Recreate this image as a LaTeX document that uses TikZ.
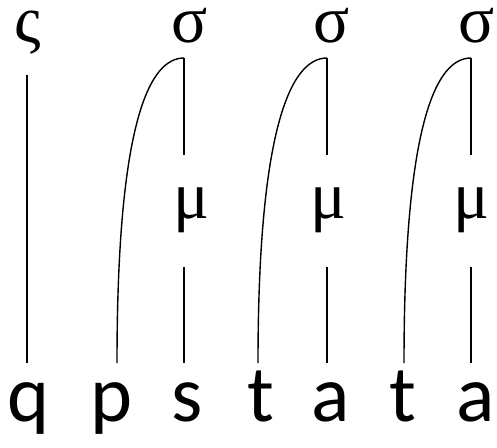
\documentclass[tikz,border=0pt]{standalone}
\usepackage{fontspec}
\setmainfont{Carlito}
\newfontfamily\grkfont{Liberation Serif}
\begin{document}
\begin{tikzpicture}[x=1pt,y=-1pt,line width=1.4pt,
  seg/.style={font=\fontsize{80}{90}\selectfont,anchor=base,inner sep=0pt},
  gk/.style={font=\grkfont\fontsize{67}{75}\selectfont,anchor=base,inner sep=0pt,
    text height=31pt,text depth=14pt}]
\useasboundingbox (0,0) rectangle (497,447);
% syllables
\node[gk] (s0) at (28,42) {ς};
\node[gk] (s1) at (190,42) {σ};
\node[gk] (s2) at (332,42) {σ};
\node[gk] (s3) at (477,42) {σ};
% moras
\node[gk] (m1) at (191,218) {μ};
\node[gk] (m2) at (328,218) {μ};
\node[gk] (m3) at (471,218) {μ};
% segments
\node[seg] (q)  at (29,421) {q};
\node[seg] (p)  at (112,421) {p};
\node[seg] (s)  at (187,421) {s};
\node[seg] (t1) at (261,421) {t};
\node[seg] (a1) at (331,421) {a};
\node[seg] (t2) at (403,421) {t};
\node[seg] (a2) at (476,421) {a};
% attachment points
\coordinate (s0b) at (27,75);
\coordinate (s1b) at (184,58);
\coordinate (s2b) at (327,58);
\coordinate (s3b) at (471,58);
\coordinate (m1t) at (184,155);
\coordinate (m2t) at (327,155);
\coordinate (m3t) at (471,155);
\coordinate (m1b) at (184,267);
\coordinate (m2b) at (327,267);
\coordinate (m3b) at (471,267);
\coordinate (qt)  at (27,363);
\coordinate (pt)  at (117,363);
\coordinate (st)  at (184,363);
\coordinate (t1t) at (258,363);
\coordinate (a1t) at (327,363);
\coordinate (t2t) at (404,363);
\coordinate (a2t) at (471,363);
% connectors
\draw (s0b) -- (qt);
\draw (s1b) -- (m1t);
\draw (s2b) -- (m2t);
\draw (s3b) -- (m3t);
\draw (m1b) -- (st);
\draw (m2b) -- (a1t);
\draw (m3b) -- (a2t);
\draw (s1b) .. controls (150,58) and (117,120) .. (pt);
\draw (s2b) .. controls (293,58) and (258,120) .. (t1t);
\draw (s3b) .. controls (437,58) and (404,120) .. (t2t);
\end{tikzpicture}
\end{document}
